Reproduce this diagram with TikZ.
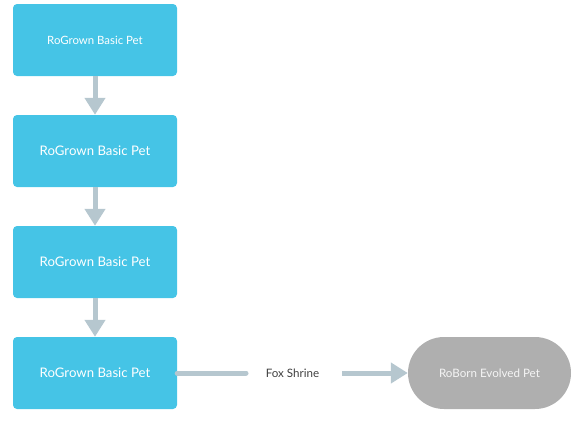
\documentclass[tikz,border=0pt]{standalone}
\usepackage{fontspec}
\setmainfont{Lato}
\usetikzlibrary{arrows.meta,shapes.misc}
\definecolor{boxblue}{HTML}{45C4E6}
\definecolor{conn}{HTML}{B6C7CF}
\definecolor{pillgrey}{HTML}{AFAFAF}
\tikzset{
  petbox/.style={fill=boxblue, rounded corners=4pt, minimum width=164pt, minimum height=72pt, inner sep=0pt, text=white, font=\fontsize{13.2}{15}\selectfont},
  pill/.style={rounded rectangle, fill=pillgrey, minimum width=163pt, minimum height=72pt, inner sep=0pt, text=white!88!pillgrey, font=\fontsize{11.6}{14}\selectfont},
  conline/.style={draw=conn, line width=5pt},
  conarrow/.style={conline, -{Triangle[width=20pt,length=17pt]}},
}
\begin{document}
\begin{tikzpicture}[x=1pt,y=-1pt]
\useasboundingbox (0,0) rectangle (588,424);
\node[petbox, font=\fontsize{11.4}{14}\selectfont] (b1) at (95,40) {RoGrown Basic Pet};
\node[petbox] (b2) at (95,151) {RoGrown Basic Pet};
\node[petbox] (b3) at (95,262) {RoGrown Basic Pet};
\node[petbox] (b4) at (95,373) {RoGrown Basic Pet};
\node[pill] (p) at (489.5,373) {RoBorn Evolved Pet};
\node[font=\fontsize{11.6}{14}\selectfont, text=black!75] (fox) at (292.5,373) {Fox Shrine};
\coordinate (l1) at (246,373);
\coordinate (l2) at (342,373);
\draw[conarrow] (b1.south) -- (b2.north);
\draw[conarrow] (b2.south) -- (b3.north);
\draw[conarrow] (b3.south) -- (b4.north);
\draw[conline, line cap=round] (b4.east) -- (l1);
\draw[conarrow] (l2) -- (p.west);
\end{tikzpicture}
\end{document}
